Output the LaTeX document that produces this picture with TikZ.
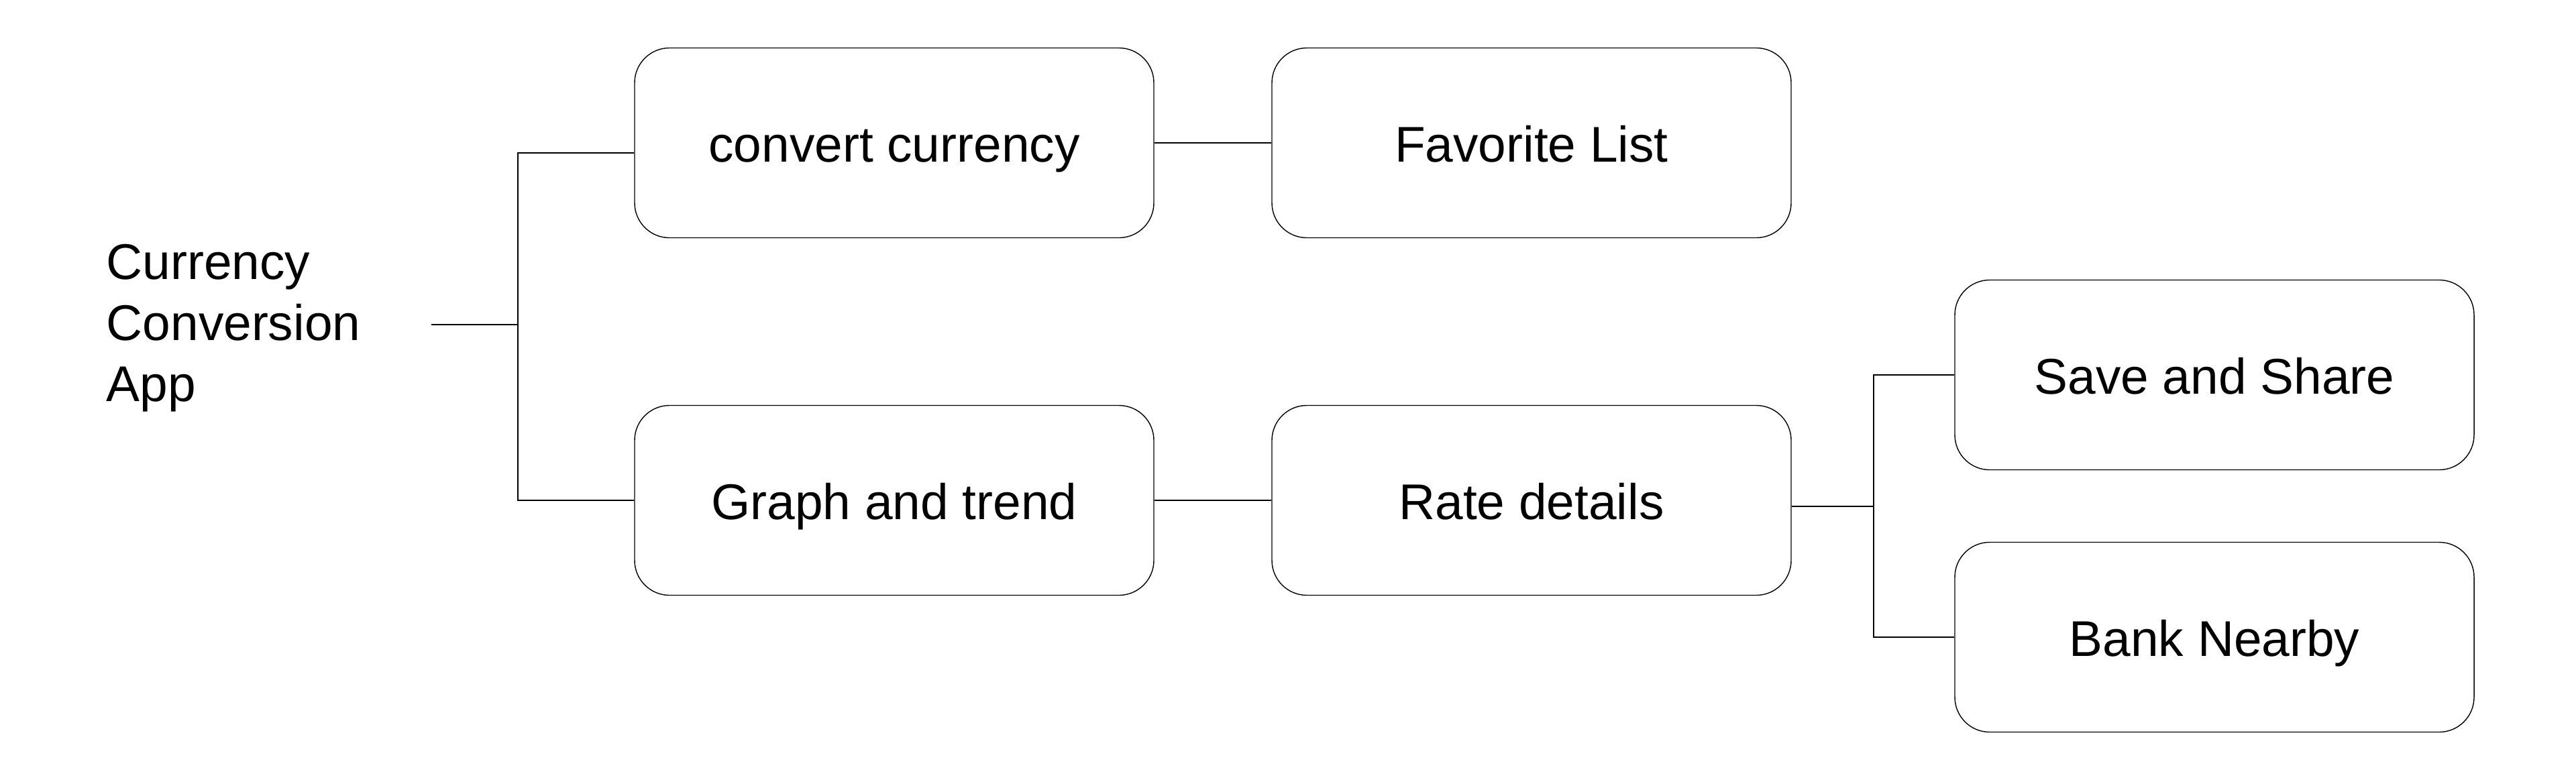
\documentclass[tikz,border=0pt]{standalone}
\usepackage{fontspec}
\setmainfont{Liberation Sans}
\usetikzlibrary{calc}

\begin{document}
\begin{tikzpicture}
		\useasboundingbox (0,0) rectangle (38.4,11.59);
		\tikzset{box/.style={draw,rounded corners=0.52cm,minimum width=7.74cm,minimum height=2.83cm,inner sep=0pt,text height=0.56cm,text depth=0cm,font=\fontsize{21.3}{25.9}\selectfont}}
		
		\def\xa{13.33};
		\def\xb{22.83};
		\def\xc{33.01};
		\def\yt{9.46};
		\def\yb{4.13};
		\node[anchor=west,inner sep=0pt,text width=4.84cm,align=left,font=\fontsize{21.3}{25.9}\selectfont] (app) at (1.58,6.70) {Currency\\Conversion\\App};
		\node[box] (convert) at (\xa,\yt) {convert currency};
		\node[box] (graph) at (\xa,\yb) {Graph and trend};
		\node[box] (fav) at (\xb,\yt) {Favorite List};
		\node[box] (rate) at (\xb,\yb) {Rate details};
		\node[box] (save) at (\xc,6.00) {Save and Share};
		\node[box] (bank) at (\xc,2.09) {Bank Nearby};
		
		\coordinate (J1) at (7.72,6.75);
		\coordinate (J2) at (27.93,4.04);
		\draw (J1 -| app.east) -- (J1);
		\draw (J1) |- ([yshift=-0.15cm]convert.west);
		\draw (J1) |- (graph.west);
		\draw (convert.east) -- (fav.west);
		\draw (graph.east) -- (rate.west);
		\draw (J2 -| rate.east) -- (J2);
		\draw (J2) |- (save.west);
		\draw (J2) |- (bank.west);
		\end{tikzpicture}
\end{document}
